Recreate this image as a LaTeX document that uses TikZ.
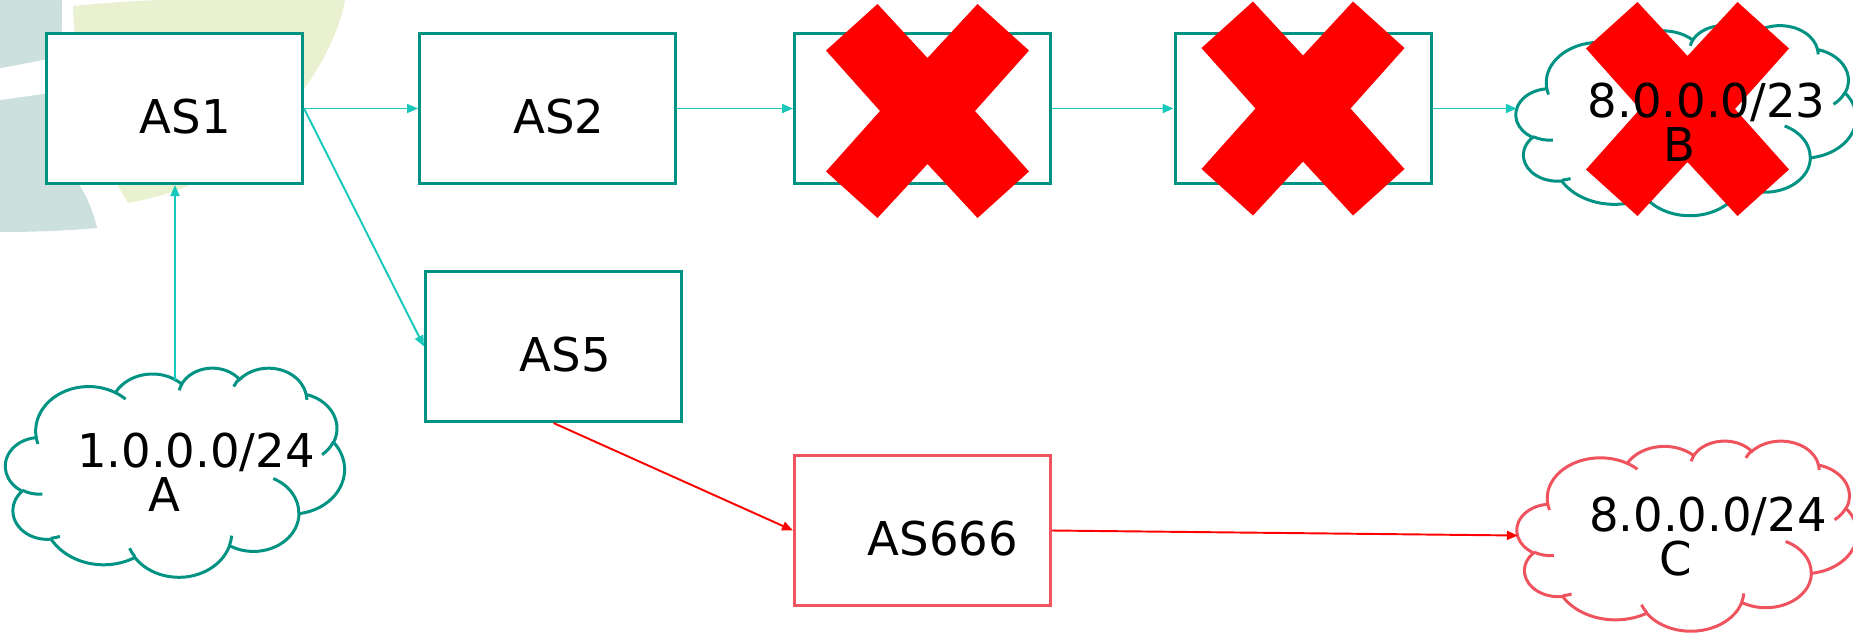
\documentclass[tikz,border=0pt]{standalone}
\usepackage{fontspec}
\setmainfont{DejaVu Sans}
\usetikzlibrary{arrows.meta}

\definecolor{boxteal}{RGB}{0,146,131}
\definecolor{linkteal}{RGB}{24,200,186}
\definecolor{hijack}{RGB}{239,83,93}
\definecolor{failred}{RGB}{255,0,0}
\definecolor{bgslate}{RGB}{204,224,222}
\definecolor{bglime}{RGB}{233,241,209}

% angles of one puff of the cloud outline (radii, start, sweep; y runs downwards)
\newcommand\cloudangles[4]{%
  \pgfmathparse{atan2((#1)*sin(-1*(#3)),(#2)*cos(-1*(#3)))}\xdef\cloudS{\pgfmathresult}%
  \pgfmathparse{atan2((#1)*sin(-1*(#3)-(#4)),(#2)*cos(-1*(#3)-(#4)))}\xdef\cloudE{\pgfmathresult}%
  \pgfmathparse{\cloudE-(\cloudS)}\xdef\cloudD{\pgfmathresult}%
  \pgfmathparse{(#4)>0 ? (\cloudD>0 ? \cloudD-360 : \cloudD) : (\cloudD<0 ? \cloudD+360 : \cloudD)}\xdef\cloudD{\pgfmathresult}%
}
\newcommand\cloudarc[4]{\pgfextra{\cloudangles{#1}{#2}{#3}{#4}}arc[x radius=#1,y radius=#2,start angle=\cloudS,delta angle=\cloudD]}

\tikzset{
  pics/netcloud/.style={code={
    \draw[fill=white] (-17.7,7.23)
      \cloudarc{6.753}{9.190}{-190.4875}{123.7805}
      \cloudarc{5.333}{7.267}{-144.1024}{89.9452}
      \cloudarc{4.365}{5.945}{-145.8079}{99.7230}
      \cloudarc{4.857}{6.595}{-130.9861}{117.2417}
      \cloudarc{5.333}{7.273}{-78.7089}{109.0269}
      \cloudarc{6.775}{9.220}{-46.2673}{130.2690}
      \cloudarc{5.785}{7.867}{0.6250}{114.0333}
      \cloudarc{6.752}{9.215}{22.4516}{115.1726}
      \cloudarc{7.720}{10.543}{66.2426}{75.7110}
      \cloudarc{4.360}{5.918}{-274.9421}{146.7356}
      \cloudarc{4.345}{5.945}{-246.8285}{152.5189}
      -- cycle;
    % inner folds of the puffs
    \draw (-16.907,-4.577) \cloudarc{4.345}{5.945}{86.7420}{26.4295}
      (-14.672,-13.299) \cloudarc{4.360}{5.918}{73.6105}{11.4477}
      (-5.122,-17.490) \cloudarc{6.752}{9.215}{137.6242}{14.0811}
      (7.227,-13.151) \cloudarc{6.752}{9.215}{6.4533}{15.9984}
      (12.529,-1.354) \cloudarc{5.785}{7.867}{-70.2924}{70.9174}
      (20.198,6.246) \cloudarc{5.333}{7.273}{30.3180}{27.7515}
      (16.724,16.174) \cloudarc{4.857}{6.595}{-13.7443}{14.8589}
      (7.478,17.648) \cloudarc{4.857}{6.595}{-149.1815}{18.1954}
      (0.541,16.880) \cloudarc{4.365}{5.945}{-163.4943}{17.6864}
      (-7.600,16.408) \cloudarc{6.753}{9.190}{-66.7070}{12.3194}
      (-17.473,5.811) \cloudarc{6.753}{9.190}{157.6544}{11.8582};
    \coordinate (-center) at (0,0);
    \coordinate (-west) at (-21.5,0);
    \coordinate (-north) at (0,19.1);
  }},
  pics/failmark/.style={code={
    \fill[failred] (-1.0,2.14) -- (0,1.06) -- (1.0,2.14) -- (2.03,1.21) -- (0.95,0)
      -- (2.03,-1.21) -- (1.0,-2.14) -- (0,-1.06) -- (-1.0,-2.14) -- (-2.03,-1.21)
      -- (-0.95,0) -- (-2.03,1.21) -- cycle;
  }}
}

\begin{document}
\begin{tikzpicture}[
  >={Triangle[length=0.22cm,width=0.18cm]},
  asbox/.style={rectangle, draw=boxteal, line width=1.7pt, fill=white, minimum width=5.12cm, minimum height=3.0cm, inner sep=0pt},
  astext/.style={font=\fontsize{26.5}{25}\selectfont, inner sep=0pt},
  preftext/.style={font=\fontsize{26.5}{25}\selectfont, align=center, inner sep=0pt},
  link/.style={->, line width=1.1pt, draw=linkteal},
  hijacklink/.style={->, line width=1.1pt, draw=failred}
]
\def\xFirst{3.49}
\def\xSecond{10.95}
\def\xThird{18.45}
\def\xFourth{26.06}
\def\yTop{-2.17}
\def\yMid{-6.93}
\def\yLow{-10.61}
\useasboundingbox (0,0) rectangle (37.06,-12.66);

% backdrop in the top left corner
\fill[bgslate] (0,0) -- (1.24,0) .. controls (1.24,-0.5) and (1.23,-0.9) .. (1.22,-1.14)
  .. controls (0.8,-1.2) and (0.4,-1.3) .. (0,-1.36) -- cycle;
\fill[bgslate] (0,-2.0) .. controls (0.3,-1.96) and (0.6,-1.92) .. (1.0,-1.86) -- (1.6,-3.72)
  .. controls (1.78,-4.0) and (1.88,-4.3) .. (1.94,-4.56)
  .. controls (1.3,-4.62) and (0.6,-4.64) .. (0,-4.64) -- cycle;
\fill[bglime] (1.46,-0.12) .. controls (2.2,-0.05) and (2.9,0) .. (3.4,0) -- (6.9,0)
  .. controls (6.7,-1.2) and (5.4,-3.1) .. (3.56,-3.8)
  .. controls (3.1,-3.95) and (2.8,-4.02) .. (2.56,-4.06)
  .. controls (1.9,-3.0) and (1.5,-1.5) .. (1.46,-0.12) -- cycle;

% prefixes
\pic[xscale=0.1569, yscale=0.0968, color=boxteal, line width=1.7pt] (cloudA) at (3.50,-9.44) {netcloud};
\pic[xscale=0.1574, yscale=0.0880, color=boxteal, line width=1.7pt] (cloudB) at (33.72,-2.40) {netcloud};
\pic[xscale=0.1574, yscale=0.0880, color=hijack, line width=1.7pt] (cloudC) at (33.74,-10.71) {netcloud};
\node[preftext] (prefA) at ([xshift=0.42cm]cloudA-center) {1.0.0.0/24\\A\hspace*{1.28cm}};
\node[preftext] (prefC) at ([xshift=0.42cm,yshift=-0.03cm]cloudC-center) {8.0.0.0/24\\C\hspace*{1.28cm}};

% autonomous systems
\node[asbox] (as1) at (\xFirst,\yTop) {};
\node[asbox] (as2) at (\xSecond,\yTop) {};
\node[asbox] (box3) at (\xThird,\yTop) {};
\node[asbox] (box4) at (\xFourth,\yTop) {};
\node[asbox] (as5) at (11.07,\yMid) {};
\node[asbox, draw=hijack] (as666) at (\xThird,\yLow) {};
\node[astext] (as1txt) at ([xshift=0.22cm,yshift=-0.16cm]as1.center) {AS1};
\node[astext] (as2txt) at ([xshift=0.23cm,yshift=-0.16cm]as2.center) {AS2};
\node[astext] (as5txt) at ([xshift=0.24cm,yshift=-0.16cm]as5.center) {AS5};
\node[astext] (as666txt) at ([xshift=0.41cm,yshift=-0.16cm]as666.center) {AS666};

% announcements
\draw[link] (as1.east) -- (as2.west);
\draw[link] (as1.east) -- (as5.west);
\draw[link] (as2.east) -- (box3.west);
\draw[link] (box3.east) -- (box4.west);
\draw[link] (box4.east) -- (box4.east -| cloudB-west);
\draw[link] (cloudA-north) -- (cloudA-north |- as1.south);
\draw[hijacklink] (as5.south) -- (as666.west);
\draw[hijacklink] (as666.east) -- (cloudC-west);

% withdrawn routes
\pic at ([xshift=0.1cm,yshift=-0.05cm]box3.center) {failmark};
\pic at (box4.center) {failmark};
\pic at ([xshift=0.03cm,yshift=0.22cm]cloudB-center) {failmark};
\node[preftext] (prefB) at ([xshift=0.41cm,yshift=-0.04cm]cloudB-center) {8.0.0.0/23\\B\hspace*{1.1cm}};
\end{tikzpicture}
\end{document}
